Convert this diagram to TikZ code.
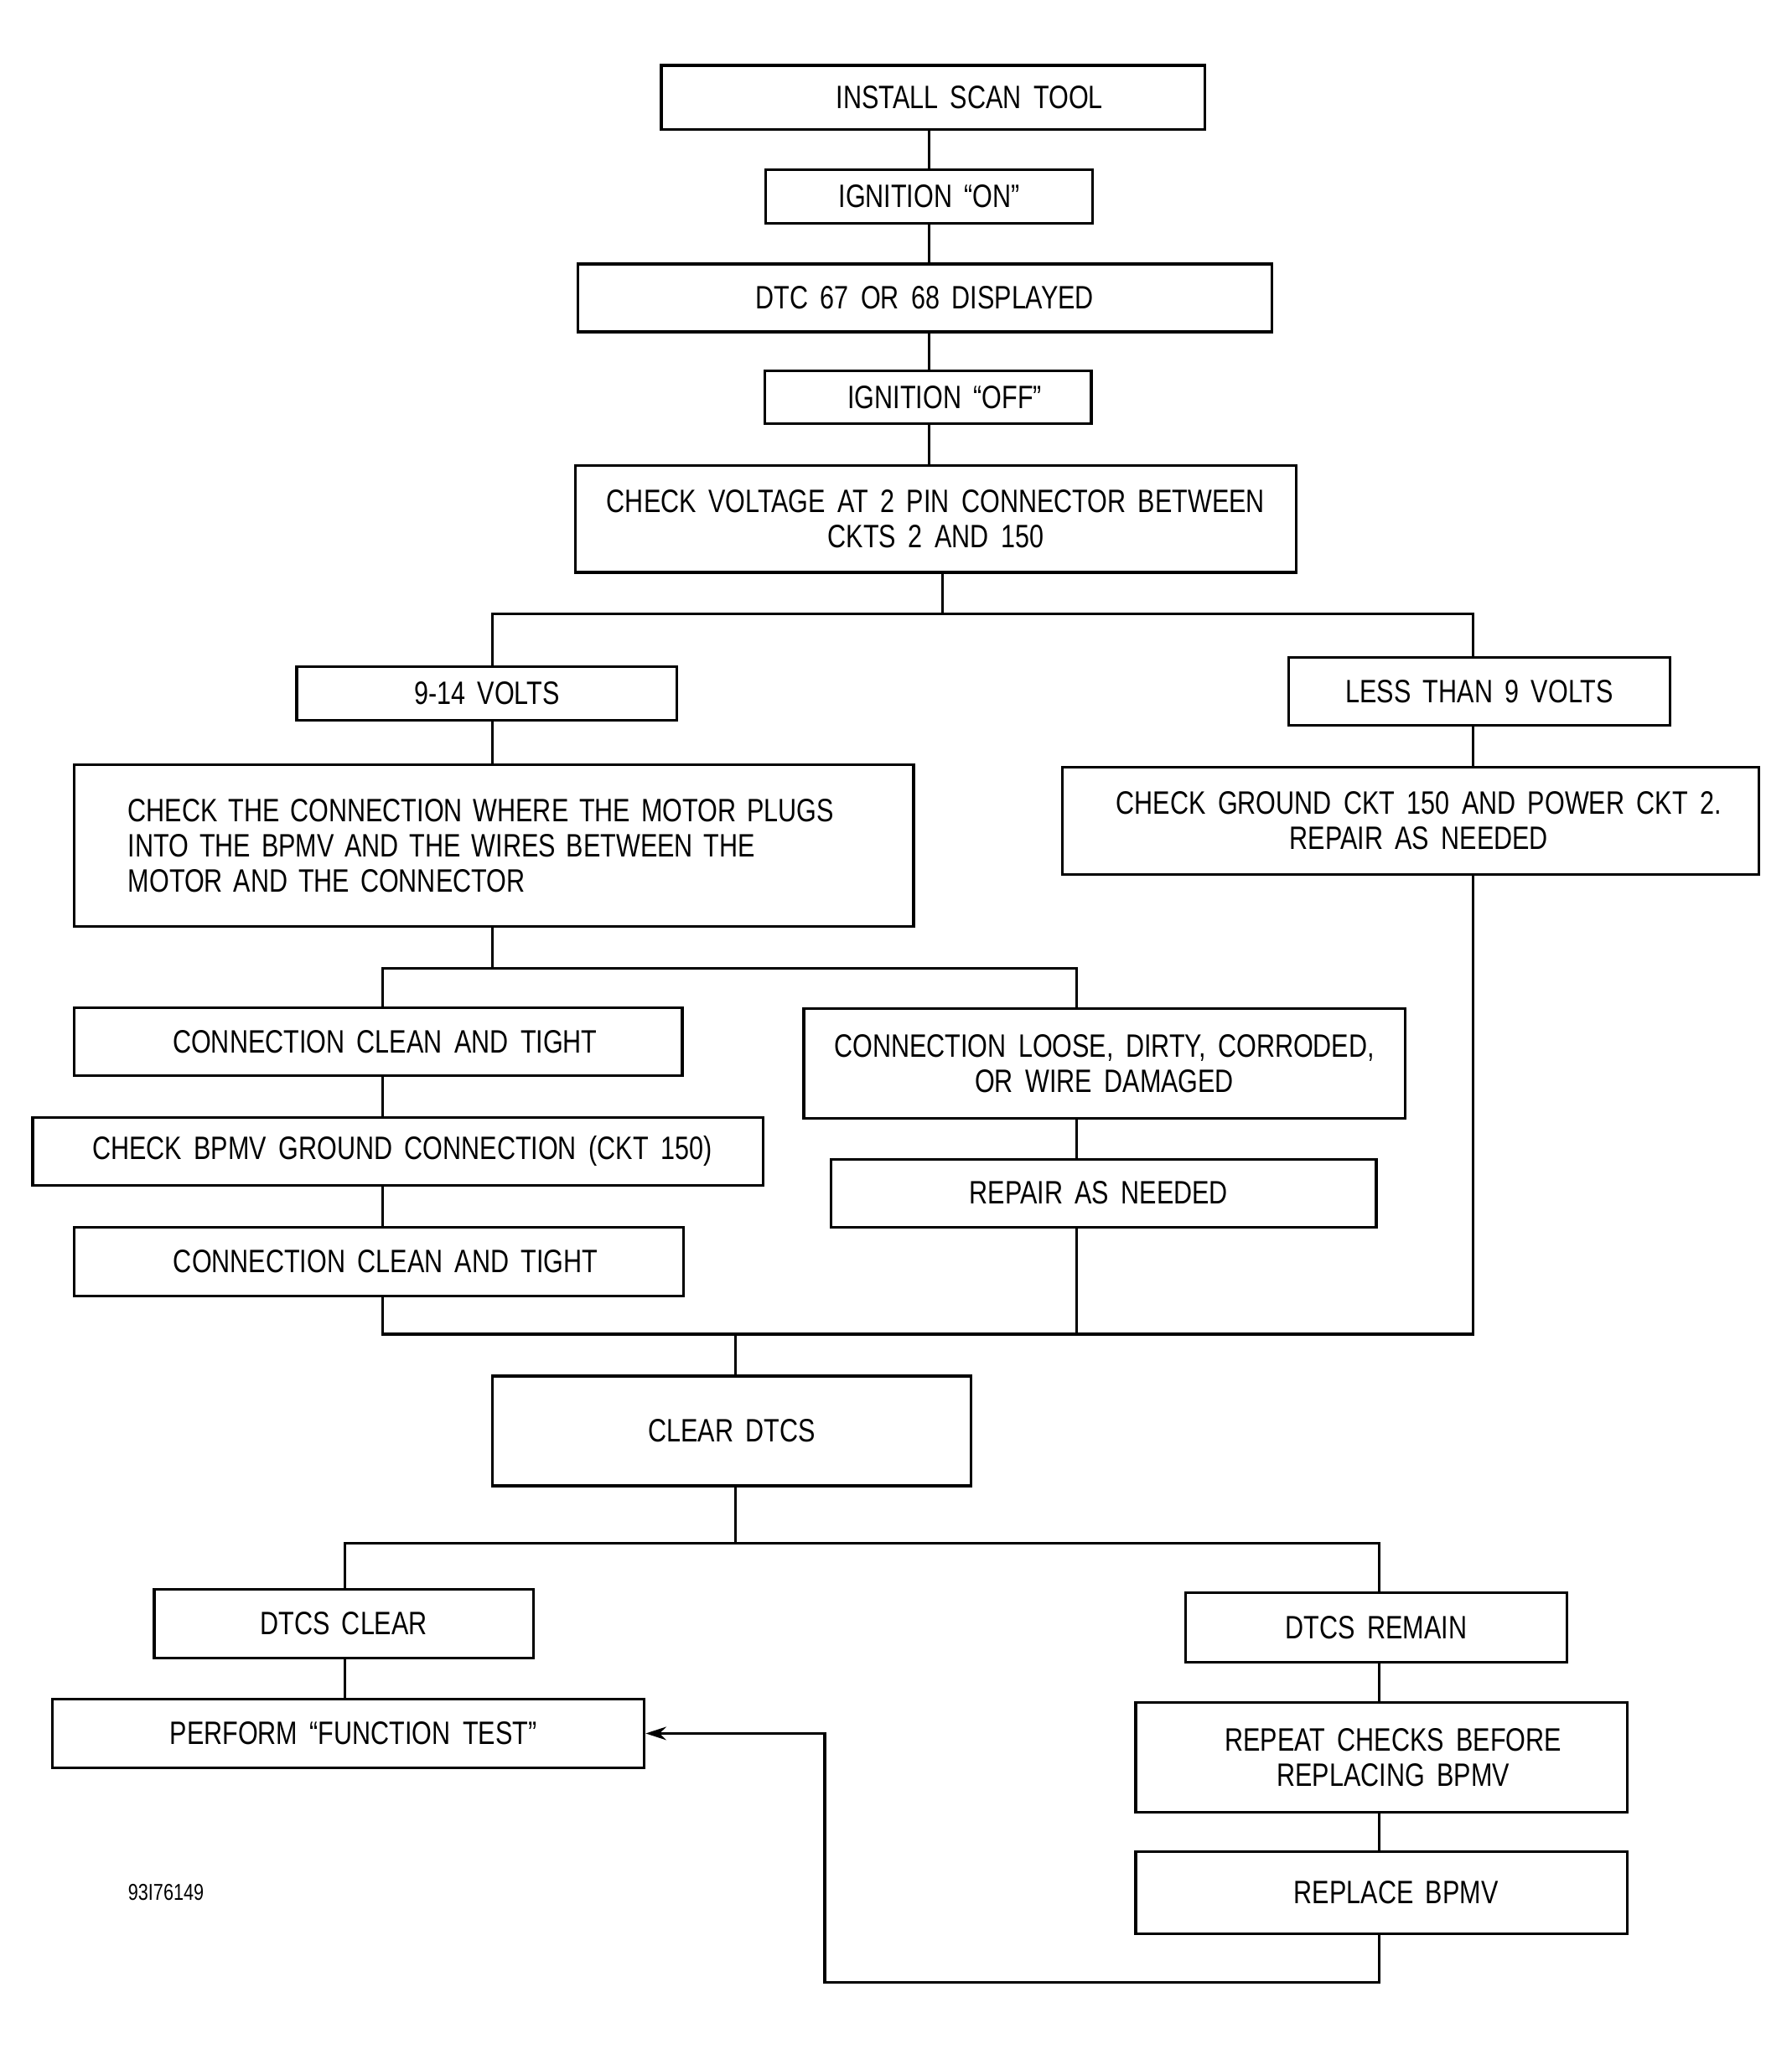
\documentclass[tikz,border=0pt]{standalone}
\usepackage{fontspec}
\setmainfont[FakeStretch=0.79,WordSpace={1.7}]{Liberation Sans}
\usetikzlibrary{arrows.meta,calc}
\newcommand\bx[7][]{\node[box,#1,minimum width={(#4-#2)*0.015594cm},minimum height={(#5-#3)*0.015594cm}] (#6) at ({(#2+#4)/2},{(#3+#5)/2}) {#7};}
\newcommand\sh[1]{\hspace*{#1cm}}
\begin{document}
\begin{tikzpicture}[x=0.015594cm,y=-0.015594cm,
  box/.style={draw,line width=0.9pt,inner sep=0pt,align=center,font=\fontsize{11}{12}\selectfont},
  ln/.style={line width=0.9pt}]
\useasboundingbox (0,0) rectangle (1371,1568);
\bx{506}{50}{922}{99}{install}{\sh{0.87}INSTALL SCAN TOOL}
\bx{586}{130}{836}{171}{ignon}{IGNITION “ON”}
\bx{442}{202}{973}{254}{dtc}{DTC 67 OR 68 DISPLAYED}
\bx{585}{284}{835}{324}{ignoff}{\sh{0.4}IGNITION “OFF”}
\bx{440}{356}{992}{438}{volt}{CHECK VOLTAGE AT 2 PIN CONNECTOR BETWEEN\\CKTS 2 AND 150}
\bx{227}{510}{518}{551}{v914}{9-14 VOLTS}
\bx{986}{503}{1278}{555}{less}{LESS THAN 9 VOLTS}
\node[box,align=left,inner xsep={41*0.015594cm},text width={(642-82)*0.015594cm},minimum height={124*0.015594cm}] (conn) at (378,647)
  {CHECK THE CONNECTION WHERE THE MOTOR PLUGS\\INTO THE BPMV AND THE WIRES BETWEEN THE\\MOTOR AND THE CONNECTOR};
\bx{813}{587}{1346}{669}{gnd}{\sh{0.19}CHECK GROUND CKT 150 AND POWER CKT 2.\\\sh{0.19}REPAIR AS NEEDED}
\bx{57}{771}{522}{823}{clean1}{\sh{0.16}CONNECTION CLEAN AND TIGHT}
\bx{615}{772}{1075}{856}{loose}{CONNECTION LOOSE, DIRTY, CORRODED,\\OR WIRE DAMAGED}
\bx{25}{855}{584}{907}{bpmv}{\sh{0.1}CHECK BPMV GROUND CONNECTION (CKT 150)}
\bx{636}{887}{1053}{939}{repair}{REPAIR AS NEEDED\sh{0.12}}
\bx{57}{939}{523}{992}{clean2}{\sh{0.16}CONNECTION CLEAN AND TIGHT}
\bx{377}{1053}{743}{1137}{clear}{CLEAR DTCS}
\bx{118}{1216}{408}{1269}{dclear}{DTCS CLEAR}
\bx{907}{1219}{1199}{1272}{remain}{DTCS REMAIN}
\bx{40}{1300}{493}{1353}{func}{\sh{0.12}PERFORM “FUNCTION TEST”}
\bx{869}{1303}{1245}{1387}{repeat}{\sh{0.28}REPEAT CHECKS BEFORE\\\sh{0.28}REPLACING BPMV}
\bx{869}{1417}{1245}{1480}{replace}{\sh{0.35}REPLACE BPMV}
\node[font=\fontsize{7.8}{9}\selectfont,inner sep=0pt] (code) at (127,1448) {93I76149};
% junctions
\coordinate (a1) at (711,0);
\coordinate (j1) at (721,470);
\coordinate (j1l) at (377,470);
\coordinate (j1r) at (1127,470);
\coordinate (j2) at (377,741);
\coordinate (j2l) at (293,741);
\coordinate (j2r) at (824,741);
\coordinate (j3l) at (293,1021);
\coordinate (j3m) at (563,1021);
\coordinate (j3r) at (1127,1021);
\coordinate (j4) at (563,1181);
\coordinate (j4l) at (264,1181);
\coordinate (j4r) at (1055,1181);
\coordinate (j5) at (631,1517);
\draw[ln] (a1 |- install.south) -- (a1 |- ignon.north);
\draw[ln] (a1 |- ignon.south) -- (a1 |- dtc.north);
\draw[ln] (a1 |- dtc.south) -- (a1 |- ignoff.north);
\draw[ln] (a1 |- ignoff.south) -- (a1 |- volt.north);
\draw[ln] (j1 |- volt.south) -- (j1);
\draw[ln] (j1l |- v914.north) -- (j1l) -- (j1r) -- (j1r |- less.north);
\draw[ln] (j1l |- v914.south) -- (j1l |- conn.north);
\draw[ln] (j1r |- less.south) -- (j1r |- gnd.north);
\draw[ln] (j2 |- conn.south) -- (j2);
\draw[ln] (j2l |- clean1.north) -- (j2l) -- (j2r) -- (j2r |- loose.north);
\draw[ln] (j2l |- clean1.south) -- (j2l |- bpmv.north);
\draw[ln] (j2l |- bpmv.south) -- (j2l |- clean2.north);
\draw[ln] (j2r |- loose.south) -- (j2r |- repair.north);
\draw[ln] (j3l |- clean2.south) -- (j3l) -- (j3r) -- (j3r |- gnd.south);
\draw[ln] (j2r |- repair.south) -- (j2r |- j3l);
\draw[ln] (j3m) -- (j3m |- clear.north);
\draw[ln] (j4 |- clear.south) -- (j4);
\draw[ln] (j4l |- dclear.north) -- (j4l) -- (j4r) -- (j4r |- remain.north);
\draw[ln] (j4l |- dclear.south) -- (j4l |- func.north);
\draw[ln] (j4r |- remain.south) -- (j4r |- repeat.north);
\draw[ln] (j4r |- repeat.south) -- (j4r |- replace.north);
\draw[ln,-{Stealth[length=7pt,width=4.5pt]}] (j4r |- replace.south) -- (j4r |- j5) -- (j5) -- (j5 |- func.east) -- (func.east);
\end{tikzpicture}
\end{document}
